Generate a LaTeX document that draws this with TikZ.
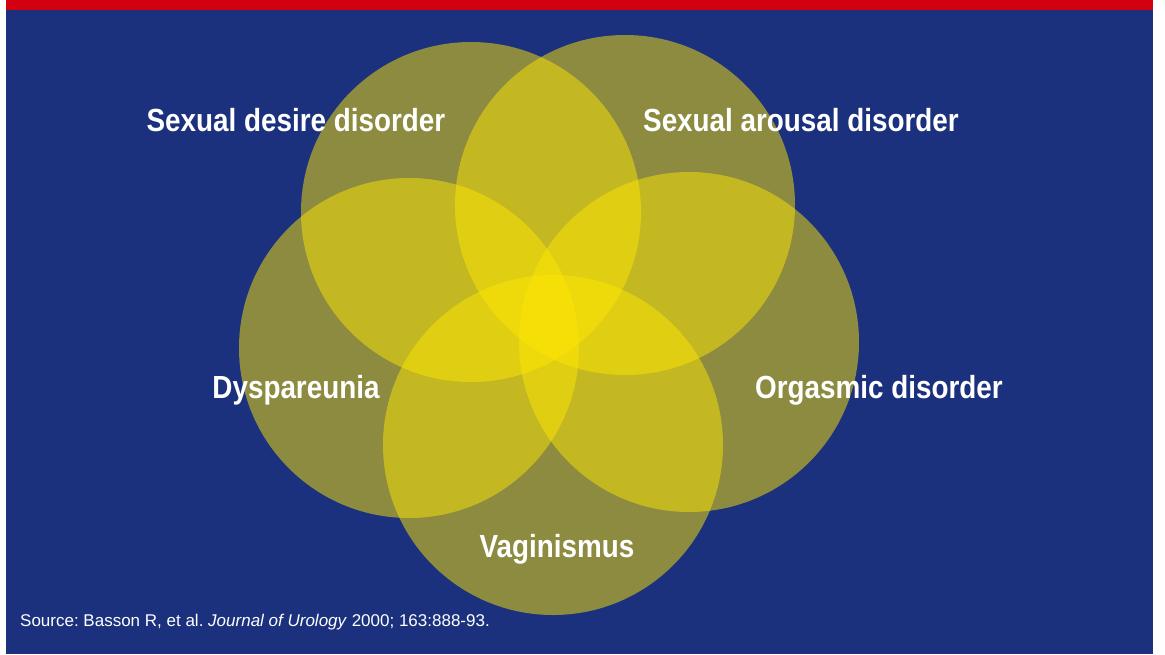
\documentclass[tikz,border=0pt]{standalone}
\usepackage{fontspec}
\setmainfont{Liberation Sans}
\newfontfamily\labelfont[FakeStretch=0.87]{Liberation Sans}
\usetikzlibrary{positioning}

\definecolor{bgblue}{RGB}{27,49,125}
\definecolor{barred}{RGB}{210,0,16}
\definecolor{petalyellow}{RGB}{253,229,5}

\tikzset{
  petal/.style={circle, minimum size=340pt, inner sep=0pt, fill=petalyellow, fill opacity=0.5},
  disorder/.style={text=white, anchor=base, font=\labelfont\bfseries\fontsize{32}{36}\selectfont},
  source/.style={text=white, anchor=base west, inner sep=0pt, font=\frenchspacing\fontsize{17}{20}\selectfont}
}

\begin{document}
\begin{tikzpicture}[x=1pt, y=-1pt]
  \useasboundingbox (0,0) rectangle (1165,654);
  % background and top bar
  \fill[white] (0,0) rectangle (1165,654);
  \fill[bgblue] (6,10) rectangle (1153,654);
  \fill[barred] (6,0) rectangle (1153,10);
  % overlapping circles
  \foreach \n/\p in {desire/{(471,212)}, arousal/{(625,205)}, orgasmic/{(689,342)},
                     vaginismus/{(553,445)}, dyspareunia/{(409,348)}} {
    \node[petal] (\n) at \p {};
  }
  % labels (placed on their baselines)
  \node[disorder] (desirelbl) at (296,131) {Sexual desire disorder};
  \node[disorder] (arousallbl) at (801,131) {Sexual arousal disorder};
  \node[disorder] (dyspareunialbl) at (296,398) {Dyspareunia};
  \node[disorder] (orgasmiclbl) at (879,398) {Orgasmic disorder};
  \node[disorder] (vaginismuslbl) at (557,557) {Vaginismus};
  % reference
  \node[source] (sourcelbl) at (20,626) {Source: Basson R, et al. \textit{Journal of Urology} 2000; 163:888-93.};
\end{tikzpicture}
\end{document}
